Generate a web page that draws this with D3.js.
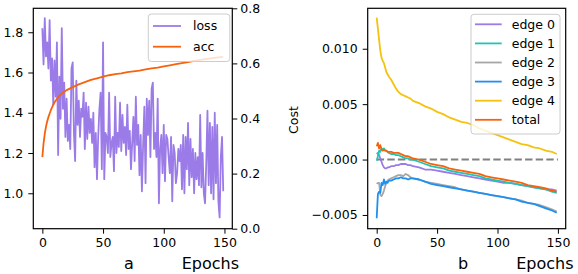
<!DOCTYPE HTML>
<html>
<head>
  <meta charset="utf-8">
  <style>
    body { margin: 0px; padding: 0px; background: white; }
    text { font-family: "DejaVu Sans", sans-serif; }
  </style>
</head>
<body>
  <div id="chart"></div>
  <script src="https://d3js.org/d3.v7.min.js"></script>
  <script>
    // panel a: loss (left axis) and acc (right axis), one value per epoch for loss
    var loss = [1.82, 1.64, 1.87, 1.68, 1.75, 1.62, 1.86, 1.56, 1.67, 1.44,
      1.66, 1.48, 1.75, 1.19, 1.58, 1.37, 1.82, 1.42, 1.55, 1.28,
      1.47, 1.26, 1.34, 1.22, 1.62, 1.65, 1.30, 1.16, 1.56, 1.34,
      1.46, 1.28, 1.42, 1.38, 1.50, 1.22, 1.45, 1.27, 1.43, 1.30,
      1.37, 1.25, 1.40, 1.13, 1.30, 1.07, 1.28, 1.42, 1.50, 1.12,
      1.75, 1.07, 1.30, 1.28, 1.20, 1.50, 1.18, 1.25, 1.28, 1.11,
      1.48, 1.20, 1.30, 1.23, 1.45, 1.21, 1.39, 1.25, 1.33, 1.19,
      1.44, 1.22, 1.31, 1.12, 1.25, 1.38, 1.16, 1.48, 1.24, 1.34,
      1.09, 1.29, 1.01, 1.24, 1.43, 1.05, 1.47, 1.29, 1.46, 1.18,
      1.52, 1.55, 1.22, 1.30, 1.18, 1.47, 0.95, 1.22, 1.29, 1.10,
      1.34, 1.06, 1.29, 1.27, 1.18, 1.10, 1.28, 0.96, 1.24, 1.20,
      1.05, 1.10, 1.22, 1.16, 1.24, 1.02, 1.29, 1.00, 1.28, 1.12,
      1.35, 1.04, 1.27, 1.08, 1.22, 1.00, 1.20, 1.07, 1.18, 1.04,
      1.39, 1.03, 1.20, 1.00, 0.95, 1.15, 1.41, 1.04, 1.35, 1.00,
      1.33, 0.97, 1.40, 1.05, 1.34, 0.96, 0.88, 1.18, 1.28, 1.01];
    var accEpochs = [0, 1, 2, 3, 4, 5, 6, 7, 8, 9, 10, 12, 14, 16, 18, 20, 25, 30, 35, 40,
      45, 50, 55, 60, 65, 70, 75, 80, 85, 90, 95, 100, 105, 110, 115, 120, 125, 130, 135, 140, 145, 149];
    var acc = [0.26, 0.31, 0.345, 0.37, 0.39, 0.405, 0.418, 0.43, 0.44, 0.45, 0.458, 0.472, 0.482, 0.49, 0.497, 0.503, 0.514, 0.524, 0.532, 0.54,
      0.546, 0.552, 0.557, 0.561, 0.564, 0.568, 0.571, 0.574, 0.578, 0.582, 0.585, 0.589, 0.593, 0.597, 0.601, 0.605, 0.609, 0.613, 0.616, 0.619, 0.622, 0.624];
    var lossTicks = [1.0, 1.2, 1.4, 1.6, 1.8];
    var accTicks = [0.0, 0.2, 0.4, 0.6, 0.8];
    var epochTicks = [0, 50, 100, 150];

    // panel b: cost per edge
    var costEpochs = [0, 1, 2, 3, 4, 5, 6, 7, 8, 9, 10, 12, 14, 16, 18, 20, 22, 24, 26, 28, 30, 35, 40, 45, 50,
      55, 60, 65, 70, 75, 80, 85, 90, 95, 100, 105, 110, 115, 120, 125, 130, 135, 140, 145, 149];
    var edge0 = [0.0005, 0.0006, 0.0004, 0.0001, -0.0002, -0.0005, -0.0007, -0.0008, -0.0008, -0.0007, -0.0007, -0.0006, -0.0006, -0.0005, -0.0005, -0.0004, -0.0004, -0.0004, -0.0005, -0.0005, -0.0006, -0.0007, -0.0009, -0.0009, -0.0010,
      -0.0011, -0.0012, -0.0013, -0.0014, -0.0015, -0.0016, -0.0017, -0.0018, -0.0019, -0.0020, -0.0021, -0.0021, -0.0022, -0.0023, -0.0024, -0.0025, -0.0026, -0.0027, -0.0027, -0.0028];
    var edge1 = [-0.0001, 0.0003, 0.0008, 0.0007, 0.0010, 0.0009, 0.0010, 0.0008, 0.0008, 0.0007, 0.0006, 0.0005, 0.0005, 0.0004, 0.0004, 0.0003, 0.0002, 0.0001, 0.0001, 0.0000, 0.0000, -0.0002, -0.0004, -0.0006, -0.0007,
      -0.0008, -0.0010, -0.0011, -0.0012, -0.0013, -0.0014, -0.0015, -0.0017, -0.0018, -0.0019, -0.0020, -0.0021, -0.0022, -0.0023, -0.0024, -0.0025, -0.0026, -0.0027, -0.0029, -0.0030];
    var edge2 = [-0.0022, -0.0021, -0.0021, -0.0032, -0.0033, -0.0031, -0.0028, -0.0024, -0.0021, -0.0019, -0.0018, -0.0017, -0.0016, -0.0015, -0.0014, -0.0014, -0.0015, -0.0013, -0.0014, -0.0016, -0.0017, -0.0018, -0.0020, -0.0021, -0.0022,
      -0.0023, -0.0024, -0.0025, -0.0027, -0.0028, -0.0029, -0.0030, -0.0031, -0.0032, -0.0033, -0.0034, -0.0035, -0.0036, -0.0037, -0.0039, -0.0040, -0.0041, -0.0043, -0.0045, -0.0047];
    var edge3 = [-0.0053, -0.0031, -0.0029, -0.0030, -0.0021, -0.0023, -0.0018, -0.0022, -0.0020, -0.0021, -0.0019, -0.0019, -0.0018, -0.0017, -0.0017, -0.0016, -0.0017, -0.0017, -0.0018, -0.0017, -0.0017, -0.0018, -0.0020, -0.0022, -0.0023,
      -0.0024, -0.0025, -0.0026, -0.0027, -0.0028, -0.0029, -0.0030, -0.0031, -0.0032, -0.0033, -0.0034, -0.0035, -0.0036, -0.0038, -0.0039, -0.0040, -0.0042, -0.0044, -0.0046, -0.0048];
    var edge4 = [0.0128, 0.0118, 0.0108, 0.0098, 0.0092, 0.0089, 0.0087, 0.0083, 0.0079, 0.0077, 0.0075, 0.0072, 0.0068, 0.0064, 0.0061, 0.0059, 0.0058, 0.0057, 0.0056, 0.0055, 0.0053, 0.0051, 0.0048, 0.0046, 0.0043,
      0.0041, 0.0038, 0.0036, 0.0034, 0.0033, 0.0031, 0.0028, 0.0026, 0.0024, 0.0022, 0.0020, 0.0018, 0.0016, 0.0014, 0.0013, 0.0011, 0.0010, 0.0008, 0.0007, 0.0005];
    var total = [0.0012, 0.0015, 0.0010, 0.0013, 0.0009, 0.0008, 0.0009, 0.0008, 0.0008, 0.0007, 0.0007, 0.0007, 0.0006, 0.0006, 0.0006, 0.0005, 0.0004, 0.0003, 0.0003, 0.0002, 0.0001, 0.0000, -0.0002, -0.0004, -0.0005,
      -0.0006, -0.0008, -0.0009, -0.0010, -0.0011, -0.0012, -0.0013, -0.0015, -0.0016, -0.0017, -0.0018, -0.0019, -0.0020, -0.0021, -0.0023, -0.0024, -0.0025, -0.0026, -0.0028, -0.0029];
    var costNames = ['edge 0', 'edge 1', 'edge 2', 'edge 3', 'edge 4', 'total'];
    var costSeries = [edge0, edge1, edge2, edge3, edge4, total];
    var costColors = ['#9b7be8', '#20c4b4', '#a6a6a6', '#1e90f0', '#f5c20f', '#f7630c'];
    var costTicks = [-0.005, 0.000, 0.005, 0.010];

    var width = 578, height = 274;
    var fs = 12.5;
    var svg = d3.select('#chart').append('svg').attr('width', width).attr('height', height);

    var plotTop = 8.3, plotBottom = 228.7;

    // ----- panel a -----
    var ax = { left: 33.3, right: 232.3 };
    var xA = d3.scaleLinear().domain([-7.45, 156.45]).range([ax.left, ax.right]);
    var yLoss = d3.scaleLinear().domain([0.824, 1.919]).range([plotBottom, plotTop]);
    var yAcc = d3.scaleLinear().domain([0, 0.8]).range([plotBottom, plotTop]);

    var gA = svg.append('g');
    gA.append('path')
      .datum(loss)
      .attr('d', d3.line().x(function(d, i) { return xA(i); }).y(function(d) { return yLoss(d); }))
      .attr('fill', 'none').attr('stroke', '#9b7be8').attr('stroke-width', 1.8).attr('stroke-linejoin', 'round');
    gA.append('path')
      .datum(acc)
      .attr('d', d3.line().x(function(d, i) { return xA(accEpochs[i]); }).y(function(d) { return yAcc(d); }))
      .attr('fill', 'none').attr('stroke', '#f7630c').attr('stroke-width', 1.8).attr('stroke-linejoin', 'round');

    function styleAxis(g) {
      g.selectAll('text').attr('font-size', fs).attr('fill', 'black').attr('font-family', 'DejaVu Sans');
      g.selectAll('line').attr('stroke', 'black').attr('stroke-width', 1);
      g.select('.domain').remove();
    }

    gA.append('g').attr('transform', 'translate(0,' + plotBottom + ')')
      .call(d3.axisBottom(xA).tickValues(epochTicks).tickSize(5).tickPadding(4.5).tickSizeOuter(0).tickFormat(d3.format('d')))
      .call(styleAxis);
    gA.append('g').attr('transform', 'translate(' + ax.left + ',0)')
      .call(d3.axisLeft(yLoss).tickValues(lossTicks).tickSize(5).tickPadding(5).tickSizeOuter(0).tickFormat(d3.format('.1f')))
      .call(styleAxis);
    gA.append('g').attr('transform', 'translate(' + ax.right + ',0)')
      .call(d3.axisRight(yAcc).tickValues(accTicks).tickSize(5).tickPadding(3).tickSizeOuter(0).tickFormat(d3.format('.1f')))
      .call(styleAxis);
    gA.append('rect').attr('x', ax.left).attr('y', plotTop).attr('width', ax.right - ax.left).attr('height', plotBottom - plotTop)
      .attr('fill', 'none').attr('stroke', 'black').attr('stroke-width', 1.2);

    // legend a
    var legA = gA.append('g');
    legA.append('rect').attr('x', 148.3).attr('y', 14).attr('width', 81.5).attr('height', 47.5).attr('rx', 3)
      .attr('fill', 'white').attr('fill-opacity', 0.8).attr('stroke', '#cccccc').attr('stroke-width', 1);
    [['loss', '#9b7be8'], ['acc', '#f7630c']].forEach(function(e, i) {
      var yy = 26 + i * 20.7;
      legA.append('line').attr('x1', 153).attr('x2', 181).attr('y1', yy).attr('y2', yy)
        .attr('stroke', e[1]).attr('stroke-width', 1.8);
      legA.append('text').attr('x', 193).attr('y', yy).attr('dy', '0.35em').attr('font-size', fs).text(e[0]);
    });

    gA.append('text').attr('x', 129).attr('y', 268.5).attr('text-anchor', 'middle').attr('font-size', 16).text('a');
    gA.append('text').attr('x', 181.7).attr('y', 268.5).attr('font-size', 16).text('Epochs');

    // ----- panel b -----
    var bx = { left: 367.7, right: 565.7 };
    var xB = d3.scaleLinear().domain([-7.45, 156.45]).range([bx.left, bx.right]);
    var yB = d3.scaleLinear().domain([-0.00624, 0.01365]).range([plotBottom, plotTop]);
    var gB = svg.append('g');

    gB.append('line').attr('x1', xB(0)).attr('x2', xB(150)).attr('y1', yB(0)).attr('y2', yB(0))
      .attr('stroke', '#808080').attr('stroke-width', 2).attr('stroke-dasharray', '7.4,3.2');

    costSeries.forEach(function(s, k) {
      gB.append('path')
        .datum(s)
        .attr('d', d3.line().x(function(d, i) { return xB(costEpochs[i]); }).y(function(d) { return yB(d); }))
        .attr('fill', 'none').attr('stroke', costColors[k]).attr('stroke-width', 1.8).attr('stroke-linejoin', 'round');
    });

    gB.append('g').attr('transform', 'translate(0,' + plotBottom + ')')
      .call(d3.axisBottom(xB).tickValues(epochTicks).tickSize(5).tickPadding(4.5).tickSizeOuter(0).tickFormat(d3.format('d')))
      .call(styleAxis);
    gB.append('g').attr('transform', 'translate(' + bx.left + ',0)')
      .call(d3.axisLeft(yB).tickValues(costTicks).tickSize(5).tickPadding(5).tickSizeOuter(0).tickFormat(d3.format('.3f')))
      .call(styleAxis);
    gB.append('rect').attr('x', bx.left).attr('y', plotTop).attr('width', bx.right - bx.left).attr('height', plotBottom - plotTop)
      .attr('fill', 'none').attr('stroke', 'black').attr('stroke-width', 1.2);

    var legB = gB.append('g');
    legB.append('rect').attr('x', 471).attr('y', 14.3).attr('width', 89).attr('height', 119.7).attr('rx', 3)
      .attr('fill', 'white').attr('fill-opacity', 0.8).attr('stroke', '#cccccc').attr('stroke-width', 1);
    costNames.forEach(function(n, i) {
      var yy = 24.3 + i * 19.1;
      legB.append('line').attr('x1', 475).attr('x2', 501.7).attr('y1', yy).attr('y2', yy)
        .attr('stroke', costColors[i]).attr('stroke-width', 1.8);
      legB.append('text').attr('x', 511.7).attr('y', yy).attr('dy', '0.35em').attr('font-size', fs).text(n);
    });

    gB.append('text').attr('transform', 'translate(298,120) rotate(-90)').attr('text-anchor', 'middle')
      .attr('font-size', fs).text('Cost');
    gB.append('text').attr('x', 463).attr('y', 268.5).attr('text-anchor', 'middle').attr('font-size', 16).text('b');
    gB.append('text').attr('x', 516.2).attr('y', 268.5).attr('font-size', 16).text('Epochs');
  </script>
</body>
</html>
